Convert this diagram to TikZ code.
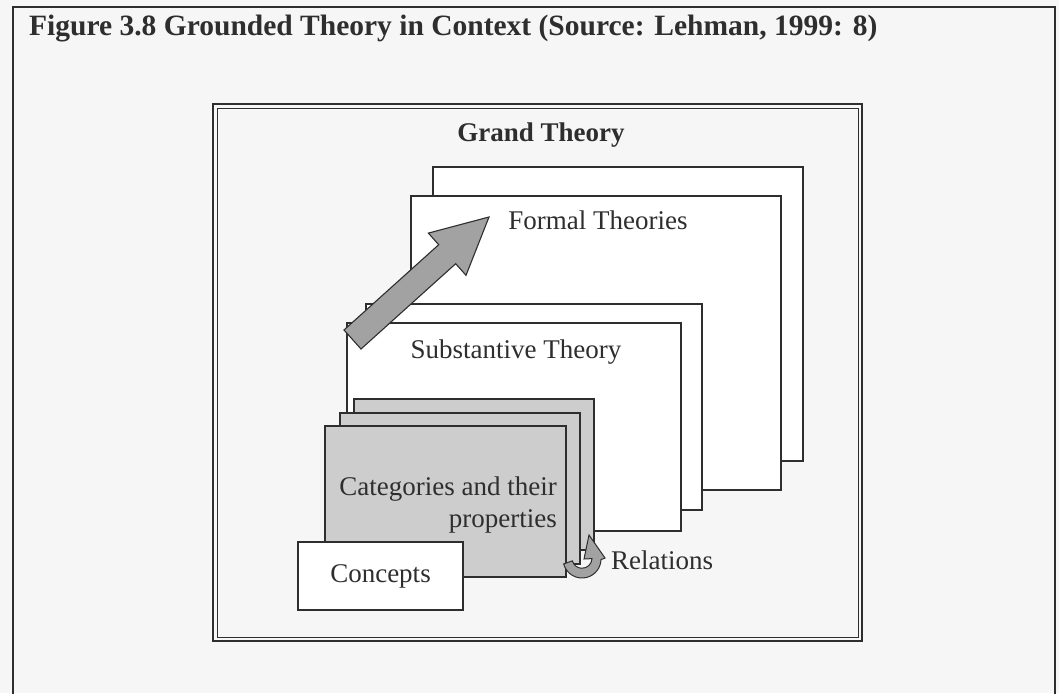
\documentclass[tikz,border=0pt]{standalone}
\usepackage{fontspec}
\setmainfont{Liberation Serif}
\usetikzlibrary{positioning}

\definecolor{ink}{HTML}{2E2E2E}
\definecolor{paper}{HTML}{F6F6F6}
\definecolor{cardgray}{HTML}{CDCDCD}
\definecolor{arrowgray}{HTML}{A2A2A2}

\tikzset{
  sheet/.style={draw=ink, line width=1.3pt, fill=white, anchor=north west,
    inner sep=0pt, outer sep=0pt},
  card/.style={sheet, fill=cardgray},
  caption/.style={text=ink, inner sep=0pt, font=\fontsize{27}{32}\selectfont}
}

\begin{document}
\begin{tikzpicture}[x=1pt,y=-1pt]
  \useasboundingbox[fill=paper] (0,0) rectangle (1059,693);
  % page frame and title
  \draw[ink, line width=1.3pt] (13,700) -- (13,7) -- (1055,7) -- (1055,700);
  \node[caption, anchor=base west, font=\fontsize{29.5}{34}\selectfont\bfseries] (title) at (29,36)
    {Figure 3.8 Grounded Theory in Context (Source: Lehman, 1999: 8)};

  % grand theory frame
  \node[sheet, fill=paper, line width=2.6pt, minimum width=649pt, minimum height=537pt] (grand) at (213,104) {};
  \draw[ink, line width=0.8pt] ([xshift=4pt,yshift=-4pt]grand.north west) rectangle ([xshift=-4pt,yshift=4pt]grand.south east);
  \node[caption, font=\fontsize{27}{32}\selectfont\bfseries, anchor=base] (grandlbl) at (541,141) {Grand Theory};

  % formal theories
  \node[sheet, minimum width=370pt, minimum height=294pt] (formalb) at (433,167) {};
  \node[sheet, minimum width=370pt, minimum height=294pt] (formalf) at (411,196) {};
  \node[caption, anchor=base] (formallbl) at (598,229) {Formal Theories};

  % substantive theory
  \node[sheet, minimum width=336pt, minimum height=206pt] (substb) at (366,304) {};
  \node[sheet, minimum width=334pt, minimum height=208pt] (substf) at (347,323) {};
  \node[caption, anchor=base] (substlbl) at (516,358) {Substantive Theory};

  % big arrow
  \draw[ink, line width=1.1pt, fill=arrowgray]
    (344,330) -- (438.7,244.7) -- (428.4,233.1) -- (489,217)
    -- (466,275.3) -- (455.7,263.7) -- (361,349) -- cycle;

  % categories
  \node[card, minimum width=240pt, minimum height=151pt] (catb) at (354,399) {};
  \node[card, minimum width=240pt, minimum height=151pt] (catm) at (340,413) {};
  \node[card, minimum width=241pt, minimum height=151pt] (catf) at (325,426) {};
  \node[caption, anchor=east, align=right] (catlbl) at (557,505)
    {Categories and their\\properties};

  % concepts
  \node[sheet, minimum width=165pt, minimum height=68pt, font=\fontsize{27}{32}\selectfont, text=ink] (concepts) at (298,542) {Concepts};

  % relations arrow
  \draw[ink, line width=1pt, fill=arrowgray]
    (582,559) ++(165:19) arc[start angle=165, end angle=2, radius=19]
    -- (605,558) -- (589,535) -- (584,559)
    -- (592,558.6) arc[start angle=2, end angle=165, radius=10] -- cycle;
  \node[caption, anchor=base west] (rellbl) at (611,569) {Relations};
\end{tikzpicture}
\end{document}
